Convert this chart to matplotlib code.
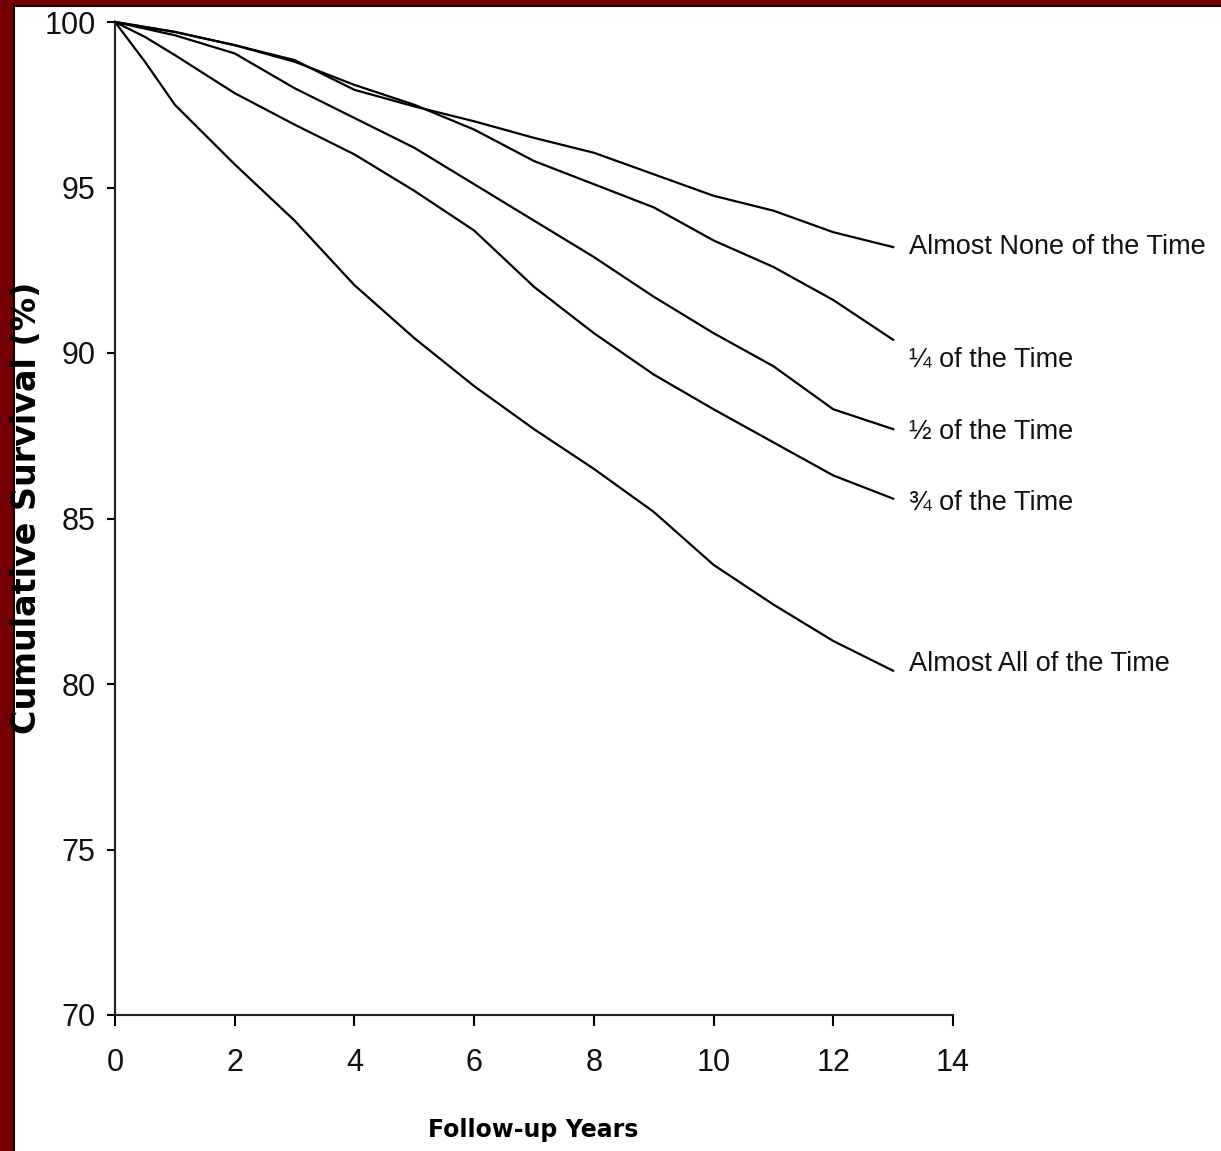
import matplotlib.pyplot as plt
from matplotlib.patches import Rectangle

# follow-up years and cumulative survival (%)
years = [0, 0.5, 1, 2, 3, 4, 5, 6, 7, 8, 9, 10, 11, 12, 13]
almost_none = [100, 99.85, 99.7, 99.3, 98.85, 97.95, 97.45, 97.0, 96.5, 96.05, 95.4, 94.75, 94.3, 93.65, 93.2]
quarter = [100, 99.85, 99.7, 99.3, 98.8, 98.1, 97.5, 96.75, 95.8, 95.1, 94.4, 93.4, 92.6, 91.6, 90.4]
half = [100, 99.8, 99.6, 99.05, 98.0, 97.1, 96.2, 95.1, 94.0, 92.9, 91.7, 90.6, 89.6, 88.3, 87.7]
three_quarter = [100, 99.55, 99.0, 97.85, 96.9, 96.0, 94.9, 93.7, 92.0, 90.6, 89.35, 88.3, 87.3, 86.3, 85.6]
almost_all = [100, 98.8, 97.5, 95.7, 94.0, 92.05, 90.45, 89.0, 87.7, 86.5, 85.2, 83.6, 82.4, 81.3, 80.4]

series = [almost_none, quarter, half, three_quarter, almost_all]
labels = ['Almost None of the Time', '\u00bc of the Time', '\u00bd of the Time',
          '\u00be of the Time', 'Almost All of the Time']
label_y = [93.2, 89.8, 87.6, 85.5, 80.6]

font = ['Liberation Sans', 'DejaVu Sans']

fig = plt.figure(figsize=(12.21, 11.51), dpi=100)
fig.patch.set_facecolor('white')

# dark red frame on the left and top
fig.patches.append(Rectangle((0, 0), 13 / 1221, 1, transform=fig.transFigure,
                             facecolor='#740000', edgecolor='none', zorder=0))
fig.patches.append(Rectangle((0, 1 - 5 / 1151), 1, 5 / 1151, transform=fig.transFigure,
                             facecolor='#740000', edgecolor='none', zorder=0))
fig.add_artist(plt.Line2D([13.5 / 1221, 13.5 / 1221], [0, 1 - 5 / 1151],
                          transform=fig.transFigure, color='black', lw=1.5))
fig.add_artist(plt.Line2D([13.5 / 1221, 1], [1 - 5.5 / 1151, 1 - 5.5 / 1151],
                          transform=fig.transFigure, color='black', lw=1.5))

ax = fig.add_axes([115 / 1221, 1 - 1015 / 1151, (953 - 115) / 1221, (1015 - 22) / 1151])

for s in series:
    ax.plot(years, s, color='black', lw=1.6, clip_on=False)

for lab, y in zip(labels, label_y):
    ax.text(13.27, y, lab, fontsize=19.5, family=font, color='#111111',
            va='center', ha='left', clip_on=False)

ax.set_xlim(0, 14)
ax.set_ylim(70, 100)
ax.set_xticks(range(0, 15, 2))
ax.set_yticks(range(70, 101, 5))

for side in ['top', 'right']:
    ax.spines[side].set_visible(False)
for side in ['left', 'bottom']:
    ax.spines[side].set_linewidth(1.5)
    ax.spines[side].set_linestyle((0, (1, 0.6)))
    ax.spines[side].set_color('#222222')

ax.tick_params(axis='y', direction='out', length=6, width=1.5, pad=8, labelsize=22)
ax.tick_params(axis='x', direction='out', length=8, width=1.5, pad=16, labelsize=22)
for t in ax.get_xticklabels() + ax.get_yticklabels():
    t.set_family(font)
    t.set_color('#111111')

fig.text(533 / 1221, 1 - 1130 / 1151, 'Follow-up Years', fontsize=17,
         fontweight='bold', ha='center', va='center', family='DejaVu Sans')
fig.text(27 / 1221, 1 - 508 / 1151, 'Cumulative Survival (%)', fontsize=24,
         fontweight='bold', rotation=90, ha='center', va='center', family='DejaVu Sans')

fig.savefig('out.png', dpi=100)
